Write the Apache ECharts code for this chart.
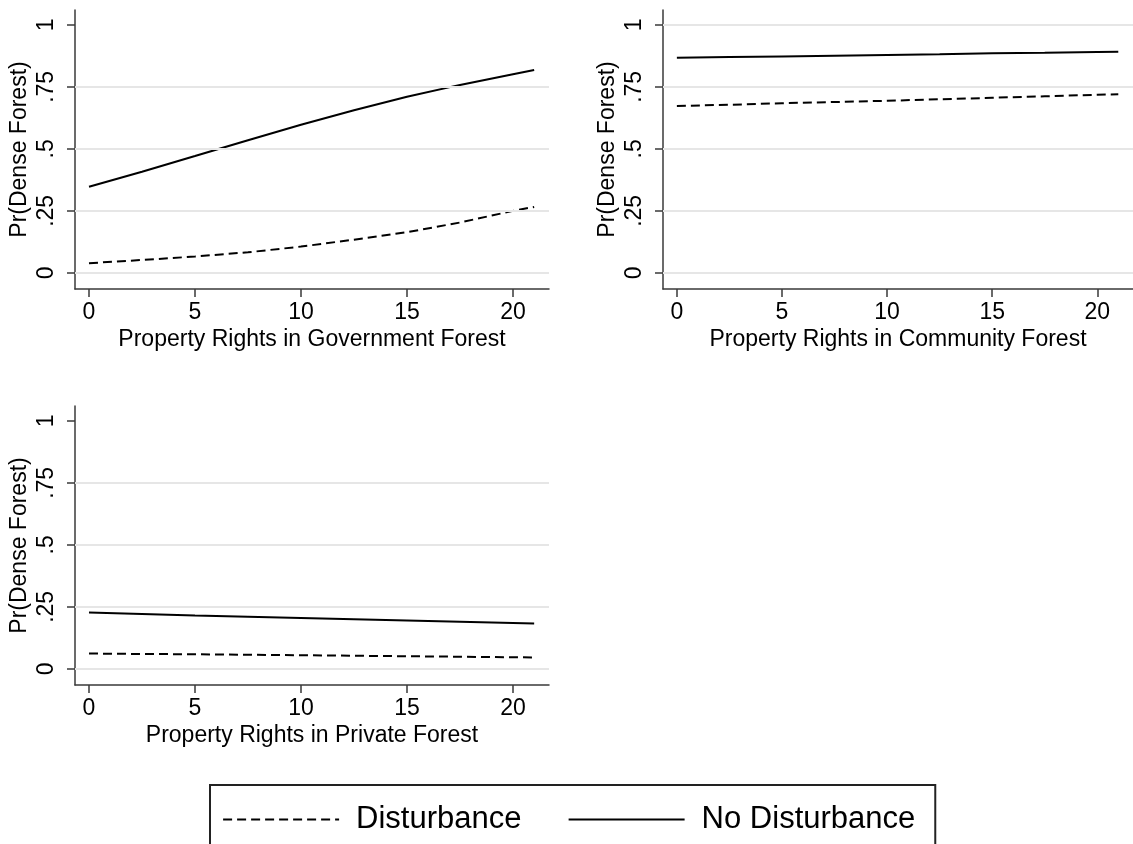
<!DOCTYPE html>
<html><head><meta charset="utf-8">
<script src="https://cdn.jsdelivr.net/npm/echarts@6/dist/echarts.min.js"></script>
<style>html,body{margin:0;padding:0;background:#fff}#c{width:1133px;height:844px}</style>
</head><body><div id="c"></div><script>
// ---- data ----
const xPts = [0, 2.5, 5, 7.5, 10, 12.5, 15, 17.5, 20, 21];
const govNoDist  = [0.347, 0.408, 0.471, 0.535, 0.597, 0.656, 0.710, 0.758, 0.801, 0.818];
const govDist    = [0.039, 0.052, 0.066, 0.083, 0.106, 0.134, 0.164, 0.203, 0.250, 0.266];
const comNoDist  = [0.867, 0.870, 0.873, 0.876, 0.879, 0.882, 0.886, 0.888, 0.891, 0.892];
const comDist    = [0.673, 0.678, 0.684, 0.689, 0.694, 0.700, 0.706, 0.712, 0.718, 0.720];
const priNoDist  = [0.227, 0.221, 0.215, 0.210, 0.205, 0.200, 0.195, 0.190, 0.185, 0.183];
const priDist    = [0.062, 0.060, 0.059, 0.057, 0.055, 0.053, 0.051, 0.049, 0.047, 0.046];
const xTickValues = [0, 5, 10, 15, 20];
const yTickValues = [0, 0.25, 0.5, 0.75, 1];
const yTickLabels = ['0', '.25', '.5', '.75', '1'];
const xTitles = ['Property Rights in Government Forest', 'Property Rights in Community Forest', 'Property Rights in Private Forest'];
const yTitle = 'Pr(Dense Forest)';
const seriesNames = ['Disturbance', 'No Disturbance'];
const panels = [[govDist, govNoDist], [comDist, comNoDist], [priDist, priNoDist]];
const gridLinesPerPanel = [[0, 0.25, 0.5, 0.75], [0, 0.25, 0.5, 0.75, 1], [0, 0.25, 0.5, 0.75]];

const FONT = "'Liberation Sans', Arial, sans-serif";
const axisColor = '#3a3a3a';
const gridPos = [
  {left: 75, top: 10, width: 474, height: 279},
  {left: 663, top: 10, width: 474, height: 279},
  {left: 75, top: 406, width: 474, height: 279}
];
const xAxes = [], yAxes = [], series = [];
panels.forEach((p, i) => {
  xAxes.push({
    type: 'value', gridIndex: i, min: -0.66, max: 21.7,
    name: xTitles[i], nameLocation: 'middle', nameGap: 39,
    nameTextStyle: {fontFamily: FONT, fontSize: 23, color: '#000'},
    axisLine: {show: true, onZero: false, lineStyle: {color: axisColor, width: 1.5}},
    axisTick: {show: true, length: 8, customValues: xTickValues, lineStyle: {color: axisColor, width: 1.5}},
    axisLabel: {customValues: xTickValues, fontFamily: FONT, fontSize: 23, color: '#000', margin: 12},
    splitLine: {show: false}
  });
  yAxes.push({
    type: 'value', gridIndex: i, min: -0.065, max: 1.06,
    name: yTitle, nameLocation: 'middle', nameGap: 44, nameRotate: 90,
    nameTextStyle: {fontFamily: FONT, fontSize: 23, color: '#000'},
    axisLine: {show: true, onZero: false, lineStyle: {color: axisColor, width: 1.5}},
    axisTick: {show: true, length: 8, customValues: yTickValues, lineStyle: {color: axisColor, width: 1.5}},
    axisLabel: {customValues: yTickValues, rotate: 90, fontFamily: FONT, fontSize: 23, color: '#000', margin: 17,
      formatter: v => yTickLabels[yTickValues.findIndex(t => Math.abs(t - v) < 1e-9)] ?? ''},
    splitLine: {show: false}
  });
  series.push({
    type: 'line', xAxisIndex: i, yAxisIndex: i, data: [], z: 1, silent: true,
    markLine: {silent: true, symbol: 'none', label: {show: false}, animation: false,
      lineStyle: {color: '#e6e6e6', width: 2, type: 'solid'},
      data: gridLinesPerPanel[i].map(v => ({yAxis: v}))}
  });
  p.forEach((vals, k) => {
    series.push({
      name: seriesNames[k], type: 'line', xAxisIndex: i, yAxisIndex: i, z: 3,
      data: xPts.map((x, j) => [x, vals[j]]),
      symbol: 'none', smooth: false, animation: false,
      lineStyle: {color: '#000', width: 2, type: k === 0 ? [9, 5] : 'solid'},
      itemStyle: {color: '#000'}
    });
  });
});

const chart = echarts.init(document.getElementById('c'), null, {renderer: 'canvas'});
chart.setOption({
  backgroundColor: '#fff',
  animation: false,
  grid: gridPos,
  xAxis: xAxes,
  yAxis: yAxes,
  legend: {
    data: seriesNames, left: 210, top: 785,
    itemWidth: 116, itemHeight: 14, itemGap: 46,
    padding: [19, 20, 30, 12],
    borderColor: '#222', borderWidth: 2, backgroundColor: '#fff',
    itemStyle: {opacity: 0, borderWidth: 0},
    lineStyle: {width: 2.2},
    textStyle: {fontFamily: FONT, fontSize: 31, color: '#000', padding: [0, 0, 0, 12]}
  },
  series: series
});
</script></body></html>
